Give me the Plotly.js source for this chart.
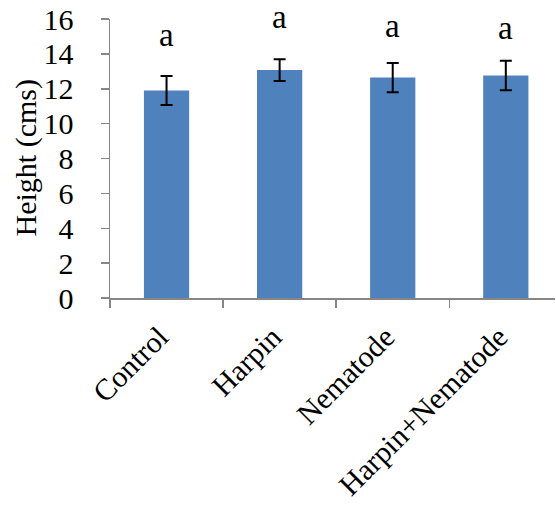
<!DOCTYPE html>
<html>
<head>
<meta charset="utf-8">
<script src="https://cdn.plot.ly/plotly-3.0.1.min.js"></script>
<style>html,body{margin:0;padding:0;background:#fff;}#chart{width:556px;height:510px;}</style>
</head>
<body>
<div id="chart"></div>
<script>
var categories = ["Control", "Harpin", "Nematode", "Harpin+Nematode"];
var heights = [11.9, 13.07, 12.64, 12.76];
var errors = [0.83, 0.62, 0.84, 0.84];
var letters = ["a", "a", "a", "a"];
var letterHeights = [14.43, 15.48, 14.96, 14.85];
var yTicks = [0, 2, 4, 6, 8, 10, 12, 14, 16];
var yTitle = "Height (cms)";

var serif = "Liberation Serif";
var axisColor = "#868686";

var trace = {
  type: "bar",
  x: categories,
  y: heights,
  marker: {color: "#4F81BD", line: {width: 0}},
  error_y: {type: "data", array: errors, visible: true, color: "#000000", thickness: 2, width: 6}
};

var annotations = categories.map(function (c, i) {
  return {x: c, y: letterHeights[i], text: letters[i], showarrow: false,
    xanchor: "center", yanchor: "bottom", yshift: -9,
    font: {family: serif, size: 33, color: "#000"}};
});
annotations.push({
  xref: "paper", yref: "paper", x: 0, y: 0.5, xshift: -85,
  xanchor: "center", yanchor: "middle", textangle: -90, showarrow: false,
  text: yTitle, font: {family: serif, size: 30, color: "#000"}
});

var layout = {
  width: 556, height: 510,
  margin: {l: 110, r: 1, t: 19, b: 212, pad: 0},
  paper_bgcolor: "#fff", plot_bgcolor: "#fff",
  showlegend: false,
  bargap: 0.6,
  xaxis: {
    type: "category", range: [-0.5, 3.435], fixedrange: true,
    showline: true, linecolor: axisColor, linewidth: 1.5,
    ticks: "outside", tickson: "boundaries", ticklen: 8, tickcolor: axisColor, tickwidth: 1.5,
    tickangle: -45, tickfont: {family: serif, size: 30, color: "#000"},
    ticklabelstandoff: 8, ticklabelshift: -7,
    showgrid: false, zeroline: false, automargin: false
  },
  yaxis: {
    range: [0, 16], tickvals: yTicks, ticktext: yTicks.map(String),
    showline: true, linecolor: axisColor, linewidth: 1.5,
    ticks: "outside", ticklen: 8, tickcolor: axisColor, tickwidth: 1.5,
    ticklabelstandoff: 21,
    tickfont: {family: serif, size: 30, color: "#000"},
    showgrid: false, zeroline: false, automargin: false
  },
  annotations: annotations
};

Plotly.newPlot("chart", [trace], layout, {displayModeBar: false, staticPlot: true});
</script>
</body>
</html>
